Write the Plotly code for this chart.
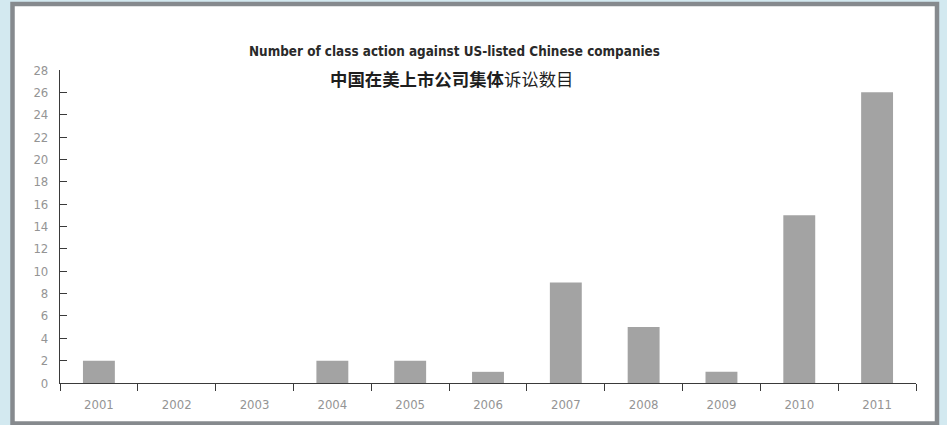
import plotly.graph_objects as go

# Yearly counts of class actions filed against US-listed Chinese companies
years = ["2001", "2002", "2003", "2004", "2005", "2006",
         "2007", "2008", "2009", "2010", "2011"]
cases = [2, 0, 0, 2, 2, 1, 9, 5, 1, 15, 26]
y_ticks = list(range(0, 29, 2))

W, H = 947, 425
ML, MR, MT, MB = 60, 31, 70, 42
PW, PH = W - ML - MR, H - MT - MB


def px_x(p):
    return (p - ML) / PW


def px_y(p):
    return (H - MB - p) / PH


fig = go.Figure(
    go.Bar(
        x=years,
        y=cases,
        marker=dict(color="#a3a3a3", line=dict(width=0)),
        width=0.41,
        hoverinfo="x+y",
    )
)

axis_font = dict(family="DejaVu Sans Condensed, sans-serif",
                 size=13, color="#949494")

fig.update_layout(
    width=W,
    height=H,
    margin=dict(l=ML, r=MR, t=MT, b=MB),
    paper_bgcolor="#d3e9f0",
    plot_bgcolor="rgba(0,0,0,0)",
    showlegend=False,
    xaxis=dict(
        type="category",
        showline=True,
        linecolor="#3a3a3a",
        linewidth=1.2,
        ticks="outside",
        tickson="boundaries",
        ticklen=7,
        tickcolor="#3a3a3a",
        showgrid=False,
        tickfont=axis_font,
        ticklabelstandoff=9,
        fixedrange=True,
    ),
    yaxis=dict(
        range=[0, 28],
        tickvals=y_ticks,
        showline=True,
        linecolor="#3a3a3a",
        linewidth=1.2,
        ticks="inside",
        ticklen=7,
        tickcolor="#3a3a3a",
        showgrid=False,
        zeroline=False,
        tickfont=axis_font,
        ticklabelstandoff=8,
        fixedrange=True,
    ),
    shapes=[
        dict(
            type="rect", xref="paper", yref="paper", layer="below",
            x0=px_x(12.5), x1=px_x(937), y0=px_y(423.5), y1=px_y(4),
            fillcolor="white", line=dict(color="#868a8e", width=4.5),
        )
    ],
    annotations=[
        dict(
            text="<b>Number of class action against US-listed Chinese companies</b>",
            xref="paper", yref="paper", x=px_x(454), y=px_y(51),
            xanchor="center", yanchor="middle", showarrow=False,
            font=dict(family="DejaVu Sans Condensed, sans-serif",
                      size=13.4, color="#2a2a2a"),
        ),
        dict(
            text="<b>中国在美上市公司集体</b>诉讼数目",
            xref="paper", yref="paper", x=px_x(452), y=px_y(78),
            xanchor="center", yanchor="middle", showarrow=False,
            font=dict(family="Noto Sans CJK SC", size=17.4, color="#1e1e1e"),
        ),
    ],
)

fig.write_html("out.html")
